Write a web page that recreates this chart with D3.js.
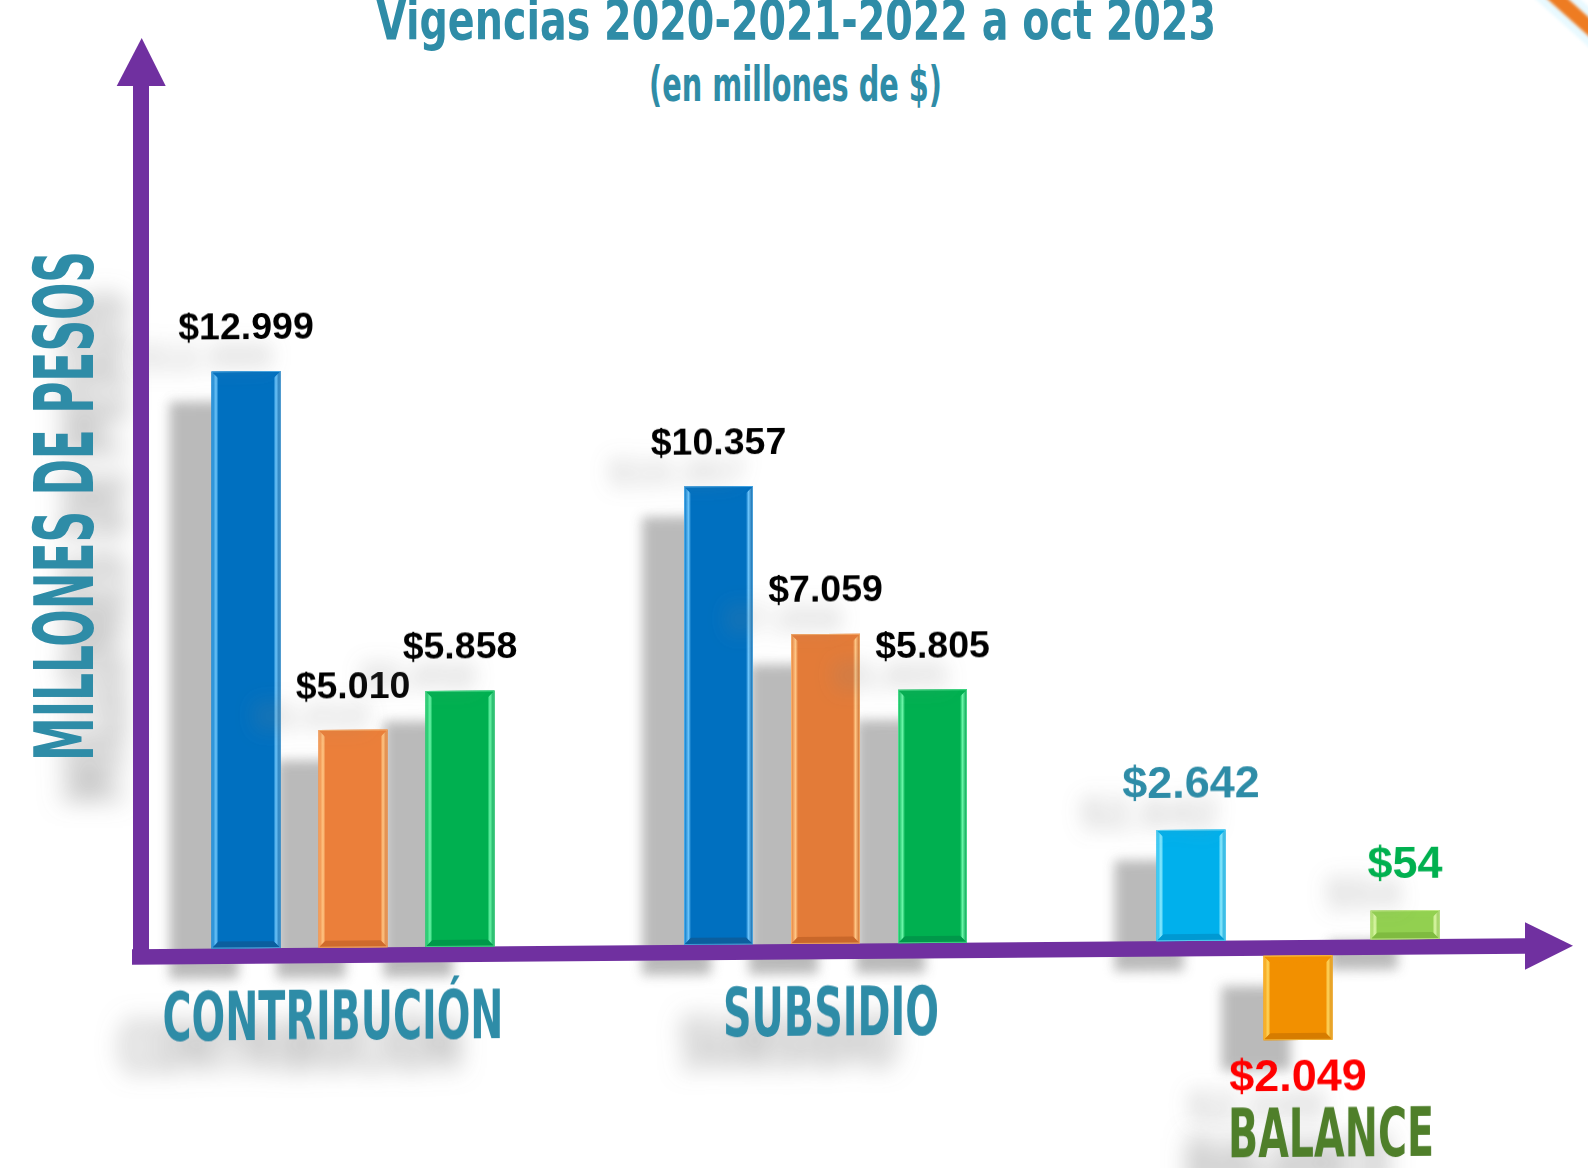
<!DOCTYPE html>
<html><head><meta charset="utf-8">
<script src="https://cdn.jsdelivr.net/npm/d3@7"></script>
<style>html,body{margin:0;padding:0;background:#fff;overflow:hidden}</style>
</head><body>
<svg id="chart" width="1588" height="1168"></svg>
<script>
// ---------------- DATA ----------------
const categories = ["CONTRIBUCIÓN", "SUBSIDIO", "BALANCE"];
const series = ["Vigencia 2020-2021", "Vigencia 2022", "Vigencia 2023 (a oct)"];
const contribucion = [12999, 5010, 5858];
const subsidio = [10357, 7059, 5805];
const balance = [2642, -2049, 54];
const title = "Vigencias 2020-2021-2022 a oct 2023";
const subtitle = "(en millones de $)";
const yAxisTitle = "MILLONES DE PESOS";

// ---------------- STYLE / LAYOUT ----------------
const W = 1588, H = 1168;
const TEAL = "#2F8CA7", PURPLE = "#7030A0";
const CONDENSED = "'DejaVu Sans Condensed','Liberation Sans Narrow','DejaVu Sans',sans-serif";
const ARIAL = "'Liberation Sans',Arial,sans-serif";
const palettes = [
  [{base:"#0070C0", light:"#6CC4FA", dark:"#0B5E9E"}, {base:"#EB7F3A", light:"#FFC684", dark:"#CF6A2C"}, {base:"#00B050", light:"#6AF5A8", dark:"#00984A"}],
  [{base:"#0070C0", light:"#6CC4FA", dark:"#0B5E9E"}, {base:"#E37B38", light:"#FFC684", dark:"#C9672A"}, {base:"#00B050", light:"#6AF5A8", dark:"#00984A"}],
  [{base:"#00B0EC", light:"#8CEBFF", dark:"#0099D2"}, {base:"#F29000", light:"#FFD75E", dark:"#D67C00"}, {base:"#92D050", light:"#DDF8A8", dark:"#7FBB40"}]
];
const labelColors = [["#000","#000","#000"], ["#000","#000","#000"], [TEAL, "#FF0000", "#00B050"]];
const labelSizes = [37.5, 37.5, 45];
const catColors = [TEAL, TEAL, "#507F2C"];
const catLabelDx = [-20, 5.5, 33];
const catLabelLen = [341, 216, 206];

const X0 = 132, Y0 = 957, SKEW = -0.45, AX_HALF = 7.75, BEVEL = 7, MIN_H = 29;

const values = [contribucion, subsidio, balance];
const svg = d3.select("#chart");
svg.append("rect").attr("width", W).attr("height", H).attr("fill", "#fff");
const defs = svg.append("defs");

// filters
const fs = defs.append("filter").attr("id", "shadowBlur")
  .attr("x", "-20%").attr("y", "-20%").attr("width", "140%").attr("height", "140%");
fs.append("feGaussianBlur").attr("stdDeviation", 6);

function textShadow(id, blur, op) {
  const ft = defs.append("filter").attr("id", id)
    .attr("x", "-100%").attr("y", "-100%").attr("width", "300%").attr("height", "400%");
  ft.append("feOffset").attr("in", "SourceAlpha").attr("dx", -42).attr("dy", 30).attr("result", "off");
  ft.append("feGaussianBlur").attr("in", "off").attr("stdDeviation", blur).attr("result", "blur");
  ft.append("feFlood").attr("flood-color", "#808080").attr("flood-opacity", op).attr("result", "col");
  ft.append("feComposite").attr("in", "col").attr("in2", "blur").attr("operator", "in").attr("result", "sh");
  const m = ft.append("feMerge");
  m.append("feMergeNode").attr("in", "sh");
  m.append("feMergeNode").attr("in", "SourceGraphic");
}
textShadow("catShadow", 12, 0.6);
textShadow("valShadow", 10, 0.35);

const glow = defs.append("filter").attr("id", "glow").attr("x", "-50%").attr("y", "-50%").attr("width", "200%").attr("height", "200%");
glow.append("feGaussianBlur").attr("stdDeviation", 1.6);

// gradients for bevels
palettes.forEach((pal, ci) => pal.forEach((p, si) => {
  const gl = defs.append("linearGradient").attr("id", `gl-${ci}-${si}`).attr("x1", 0).attr("x2", 1).attr("y1", 0).attr("y2", 0);
  gl.append("stop").attr("offset", "0%").attr("stop-color", p.base);
  gl.append("stop").attr("offset", "65%").attr("stop-color", p.light);
  gl.append("stop").attr("offset", "100%").attr("stop-color", p.base);
  const gr = defs.append("linearGradient").attr("id", `gr-${ci}-${si}`).attr("x1", 0).attr("x2", 1).attr("y1", 0).attr("y2", 0);
  gr.append("stop").attr("offset", "0%").attr("stop-color", p.base);
  gr.append("stop").attr("offset", "35%").attr("stop-color", p.light);
  gr.append("stop").attr("offset", "100%").attr("stop-color", p.dark);
}));

// scales
const x0 = d3.scaleBand().domain(categories).range([116.75, 1534.25]);
const pin = 1 - 69 / 107;
const x1 = d3.scaleBand().domain(series).range([-160.5, 160.5]).paddingInner(pin).paddingOuter(pin / 2);
const y = d3.scaleLinear().domain([0, 13000]).range([0, -585]);
const fmt = d3.formatLocale({decimal: ",", thousands: ".", grouping: [3], currency: ["$", ""]}).format("$,.0f");

const bars = [];
categories.forEach((c, ci) => values[ci].forEach((v, si) => {
  const xs = x0(c) + x0.bandwidth() / 2 + x1(series[si]);
  let top, bottom;
  if (v >= 0) { bottom = y(0) - AX_HALF; top = Math.min(y(v), bottom - MIN_H); }
  else { top = y(0) + AX_HALF; bottom = Math.max(y(v), top + MIN_H); }
  bars.push({c, ci, si, v, x: xs, w: x1.bandwidth(), top, bottom, xc: xs + x1.bandwidth() / 2});
}));

// ---------------- DECORATION top-right ----------------
svg.append("line").attr("x1", 1530).attr("y1", -26).attr("x2", 1610).attr("y2", 46)
  .attr("stroke", "#BFEFFF").attr("stroke-width", 30).attr("opacity", 0.35).attr("filter", "url(#glow)");
svg.append("line").attr("x1", 1530).attr("y1", -26).attr("x2", 1610).attr("y2", 46)
  .attr("stroke", "#EE7B24").attr("stroke-width", 14).attr("filter", "url(#glow)");

// ---------------- TITLES ----------------
svg.append("text").text(title)
  .attr("x", 796).attr("y", 38.5).attr("text-anchor", "middle")
  .attr("font-family", CONDENSED).attr("font-weight", "bold").attr("font-size", 55)
  .attr("textLength", 840).attr("lengthAdjust", "spacingAndGlyphs").attr("fill", TEAL);
svg.append("text").text(subtitle)
  .attr("x", 795.5).attr("y", 101).attr("text-anchor", "middle")
  .attr("font-family", CONDENSED).attr("font-weight", "bold").attr("font-size", 48)
  .attr("textLength", 293).attr("lengthAdjust", "spacingAndGlyphs").attr("fill", TEAL);

// Y axis title
svg.append("text").text(yAxisTitle)
  .attr("transform", "translate(93,506) rotate(-90)").attr("text-anchor", "middle")
  .attr("font-family", CONDENSED).attr("font-weight", "bold").attr("font-size", 82)
  .attr("textLength", 510).attr("lengthAdjust", "spacingAndGlyphs").attr("fill", TEAL)
  .attr("filter", "url(#catShadow)");

// ---------------- PLOT (slightly tilted baseline) ----------------
const plot = svg.append("g").attr("transform", `translate(${X0},${Y0}) skewY(${SKEW}) translate(${-X0},0)`);

// shadows
plot.append("g").attr("filter", "url(#shadowBlur)").attr("opacity", 0.9)
  .selectAll("rect").data(bars).join("rect")
  .attr("x", d => d.x - 42).attr("y", d => d.top + 30)
  .attr("width", d => d.w).attr("height", d => d.bottom - d.top)
  .attr("fill", "#b3b3b3");

// x axis line + arrow
const xEnd = 1525;
plot.append("line").attr("x1", X0).attr("x2", xEnd).attr("y1", y(0)).attr("y2", y(0))
  .attr("stroke", PURPLE).attr("stroke-width", AX_HALF * 2);
plot.append("path").attr("d", `M${xEnd},${y(0) - 23.7}L${1573},${y(0)}L${xEnd},${y(0) + 23.7}Z`).attr("fill", PURPLE);

// bars with bevel
const bg = plot.selectAll("g.bar").data(bars).join("g").attr("class", "bar");
bg.append("rect").attr("x", d => d.x).attr("y", d => d.top).attr("width", d => d.w).attr("height", d => d.bottom - d.top)
  .attr("fill", d => palettes[d.ci][d.si].base);
bg.append("path").attr("fill", d => `url(#gl-${d.ci}-${d.si})`)
  .attr("d", d => { const b = Math.min(BEVEL, (d.bottom - d.top) / 2);
    return `M${d.x},${d.top}L${d.x + b},${d.top + b}L${d.x + b},${d.bottom - b}L${d.x},${d.bottom}Z`; });
bg.append("path").attr("fill", d => `url(#gr-${d.ci}-${d.si})`)
  .attr("d", d => { const b = Math.min(BEVEL, (d.bottom - d.top) / 2), r = d.x + d.w;
    return `M${r - b},${d.top + b}L${r},${d.top}L${r},${d.bottom}L${r - b},${d.bottom - b}Z`; });
bg.append("path").attr("fill", d => palettes[d.ci][d.si].base).attr("opacity", 0.9)
  .attr("d", d => { const b = Math.min(BEVEL, (d.bottom - d.top) / 2), r = d.x + d.w;
    return `M${d.x},${d.top}L${r},${d.top}L${r - b},${d.top + b}L${d.x + b},${d.top + b}Z`; });
bg.append("path").attr("fill", d => palettes[d.ci][d.si].dark)
  .attr("d", d => { const b = Math.min(BEVEL, (d.bottom - d.top) / 2), r = d.x + d.w;
    return `M${d.x},${d.bottom}L${r},${d.bottom}L${r - b},${d.bottom - b}L${d.x + b},${d.bottom - b}Z`; });
bg.append("rect").attr("x", d => d.x + 0.5).attr("y", d => d.top + 0.5).attr("width", d => d.w - 1).attr("height", d => d.bottom - d.top - 1)
  .attr("fill", "none").attr("stroke", d => palettes[d.ci][d.si].light).attr("stroke-opacity", 0.6).attr("stroke-width", 1);

// value labels
plot.selectAll("text.val").data(bars).join("text").attr("class", "val")
  .attr("x", d => d.xc)
  .attr("y", d => d.v >= 0 ? d.top - 32 : d.bottom + 51)
  .attr("text-anchor", "middle")
  .attr("font-family", ARIAL).attr("font-weight", "bold")
  .attr("font-size", d => labelSizes[d.ci])
  .attr("fill", d => labelColors[d.ci][d.si])
  .attr("filter", "url(#valShadow)")
  .text(d => fmt(Math.abs(d.v)));

// category labels
categories.forEach((c, ci) => {
  const neg = bars.filter(b => b.ci === ci && b.v < 0);
  const yy = neg.length ? d3.max(neg, b => b.bottom) + 51 + 66 : y(0) + 84;
  plot.append("text").text(c)
    .attr("x", x0(c) + x0.bandwidth() / 2 + catLabelDx[ci]).attr("y", yy)
    .attr("text-anchor", "middle")
    .attr("font-family", CONDENSED).attr("font-weight", "bold").attr("font-size", 68)
    .attr("textLength", catLabelLen[ci]).attr("lengthAdjust", "spacingAndGlyphs")
    .attr("fill", catColors[ci]).attr("filter", "url(#catShadow)");
});

// ---------------- Y AXIS ----------------
svg.append("line").attr("x1", 141).attr("x2", 141).attr("y1", 964).attr("y2", 80)
  .attr("stroke", PURPLE).attr("stroke-width", 16);
svg.append("path").attr("d", "M116.7,86L141.7,38L165.7,86Z").attr("fill", PURPLE);
</script>
</body></html>
